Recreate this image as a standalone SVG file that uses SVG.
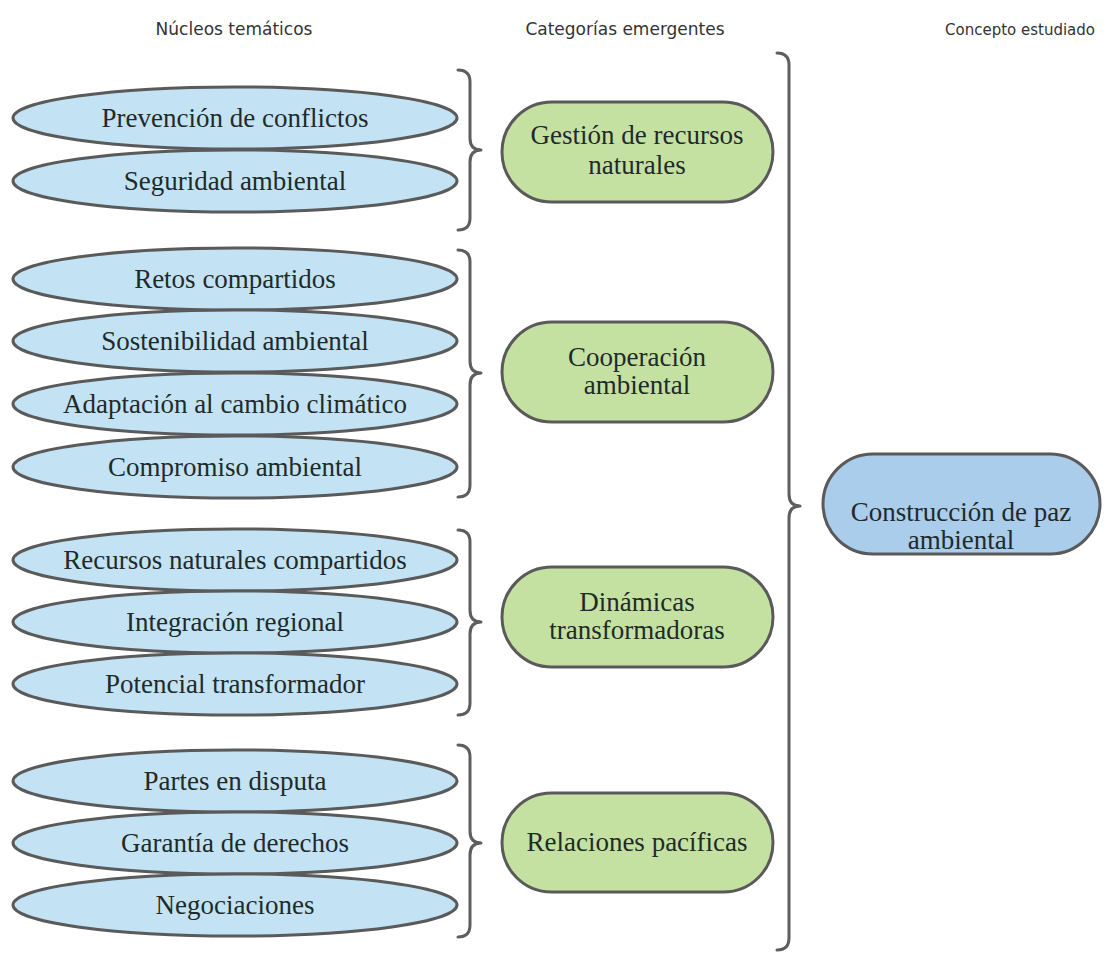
<svg xmlns="http://www.w3.org/2000/svg" width="1107" height="956" viewBox="0 0 1107 956">
<style>
.hdr{font-family:"DejaVu Sans",sans-serif;font-size:17px;fill:#333;text-anchor:middle}
.t{font-family:"Liberation Serif",serif;font-size:27px;fill:#1f2a2a;text-anchor:middle}
.ell{fill:#c3e3f4;stroke:#5a5a5a;stroke-width:3}
.grn{fill:#c5e1a2;stroke:#5a5a5a;stroke-width:3}
.blu{fill:#a9cdea;stroke:#5a5a5a;stroke-width:3}
.br{fill:none;stroke:#5e5e5e;stroke-width:3;stroke-linecap:round;stroke-linejoin:round}
</style>
<rect width="1107" height="956" fill="#fff"/>
<g id="headers">
<text class="hdr" x="234" y="35">Núcleos temáticos</text>
<text class="hdr" x="625" y="35">Categorías emergentes</text>
<text class="hdr" x="1020" y="35" style="font-size:15px">Concepto estudiado</text>
</g>
<g id="n1"><ellipse class="ell" cx="235" cy="118" rx="222" ry="31"/><text class="t" x="235" y="127">Prevención de conflictos</text></g>
<g id="n2"><ellipse class="ell" cx="235" cy="181" rx="222" ry="31"/><text class="t" x="235" y="190">Seguridad ambiental</text></g>
<g id="n3"><ellipse class="ell" cx="235" cy="279" rx="222" ry="31"/><text class="t" x="235" y="288">Retos compartidos</text></g>
<g id="n4"><ellipse class="ell" cx="235" cy="341" rx="222" ry="31"/><text class="t" x="235" y="350">Sostenibilidad ambiental</text></g>
<g id="n5"><ellipse class="ell" cx="235" cy="404" rx="222" ry="31"/><text class="t" x="235" y="413">Adaptación al cambio climático</text></g>
<g id="n6"><ellipse class="ell" cx="235" cy="467" rx="222" ry="31"/><text class="t" x="235" y="476">Compromiso ambiental</text></g>
<g id="n7"><ellipse class="ell" cx="235" cy="560" rx="222" ry="31"/><text class="t" x="235" y="569">Recursos naturales compartidos</text></g>
<g id="n8"><ellipse class="ell" cx="235" cy="622" rx="222" ry="31"/><text class="t" x="235" y="631">Integración regional</text></g>
<g id="n9"><ellipse class="ell" cx="235" cy="684" rx="222" ry="31"/><text class="t" x="235" y="693">Potencial transformador</text></g>
<g id="n10"><ellipse class="ell" cx="235" cy="781" rx="222" ry="31"/><text class="t" x="235" y="790">Partes en disputa</text></g>
<g id="n11"><ellipse class="ell" cx="235" cy="843" rx="222" ry="31"/><text class="t" x="235" y="852">Garantía de derechos</text></g>
<g id="n12"><ellipse class="ell" cx="235" cy="905" rx="222" ry="31"/><text class="t" x="235" y="914">Negociaciones</text></g>

<g id="c1"><rect class="grn" x="502" y="102" width="271" height="100" rx="50"/><text class="t" x="637" y="144">Gestión de recursos</text><text class="t" x="637" y="174">naturales</text></g>
<g id="c2"><rect class="grn" x="502" y="322" width="271" height="100" rx="50"/><text class="t" x="637" y="366">Cooperación</text><text class="t" x="637" y="394">ambiental</text></g>
<g id="c3"><rect class="grn" x="502" y="567" width="271" height="100" rx="50"/><text class="t" x="637" y="611">Dinámicas</text><text class="t" x="637" y="639">transformadoras</text></g>
<g id="c4"><rect class="grn" x="502" y="793" width="271" height="99" rx="49.5"/><text class="t" x="637" y="851">Relaciones pacíficas</text></g>

<g id="concept"><rect class="blu" x="823" y="454" width="277" height="100" rx="50"/><text class="t" x="961" y="521">Construcción de paz</text><text class="t" x="961" y="549">ambiental</text></g>

<g id="connectors">
<path class="br" d="M458,70 Q470,70 470,82 L470,138 Q470,150 481,150 Q470,150 470,162 L470,218 Q470,230 458,230"/>
<path class="br" d="M458,250 Q470,250 470,262 L470,361 Q470,373 481,373 Q470,373 470,385 L470,485 Q470,497 458,497"/>
<path class="br" d="M458,530 Q470,530 470,542 L470,610 Q470,622 481,622 Q470,622 470,634 L470,703 Q470,715 458,715"/>
<path class="br" d="M458,745 Q470,745 470,757 L470,831 Q470,843 481,843 Q470,843 470,855 L470,925 Q470,937 458,937"/>
<path class="br" d="M777,53 Q789,53 789,65 L789,494 Q789,506 800,506 Q789,506 789,518 L789,938 Q789,950 777,950"/>
</g>
</svg>
